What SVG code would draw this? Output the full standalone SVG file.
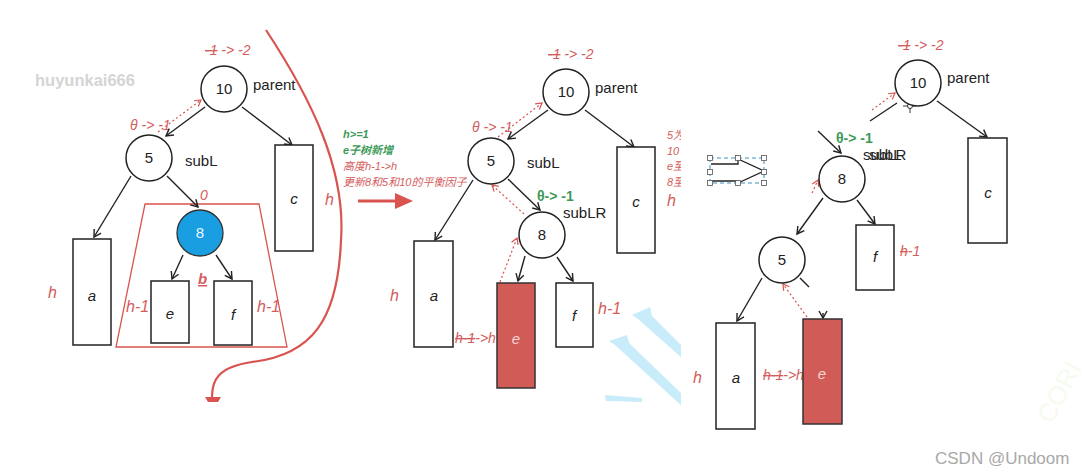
<svg xmlns="http://www.w3.org/2000/svg" width="1089" height="476" viewBox="0 0 1089 476">
<defs>
<style>
.bg{fill:#ffffff}
.node{fill:#ffffff;stroke:#222;stroke-width:1.5}
.box{fill:#ffffff;stroke:#222;stroke-width:1.5}
.boxr{fill:#d15b56;stroke:#333;stroke-width:1.5}
.num{font-family:"Liberation Sans",Arial,sans-serif;font-size:15px;fill:#222;text-anchor:middle}
.lbl{font-family:"Liberation Sans",Arial,sans-serif;font-size:15px;fill:#222}
.it{font-family:"Liberation Sans",Arial,sans-serif;font-size:15px;font-style:italic;fill:#222;text-anchor:middle}
.red{font-family:"Liberation Sans",Arial,sans-serif;font-size:14px;font-style:italic;fill:#d45d5d}
.redh{font-family:"Liberation Sans",Arial,sans-serif;font-size:16px;font-style:italic;fill:#d45d5d}
.grn{font-family:"Liberation Sans",Arial,sans-serif;font-size:14px;font-weight:bold;fill:#3d9a57}
.note{font-family:"Liberation Sans","Noto Sans CJK SC",sans-serif;font-size:11px;font-style:italic}
.link{stroke:#222;stroke-width:1.4;fill:none}
.dot{stroke:#d9534f;stroke-width:1.2;stroke-dasharray:2 2.5;fill:none}
.strike{text-decoration:line-through}
</style>
<marker id="ah" markerUnits="userSpaceOnUse" markerWidth="12" markerHeight="12" viewBox="-9 -6 12 12" refX="0" refY="0" orient="auto">
<path d="M-7,-4 L0,0 L-7,4" fill="none" stroke="#222" stroke-width="1.4"/>
</marker>
<marker id="ahr" markerUnits="userSpaceOnUse" markerWidth="12" markerHeight="12" viewBox="-9 -6 12 12" refX="0" refY="0" orient="auto">
<path d="M-6,-3.5 L0,0 L-6,3.5" fill="none" stroke="#d9534f" stroke-width="1.2"/>
</marker>
<clipPath id="midclip"><rect x="0" y="0" width="681" height="476"/></clipPath>
</defs>
<rect class="bg" x="0" y="0" width="1089" height="476"/>

<!-- watermarks -->
<text x="35" y="86" font-family="Liberation Sans,Arial,sans-serif" font-size="16.5" font-weight="bold" fill="#d4d4d4">huyunkai666</text>
<text x="935" y="464" font-family="Liberation Sans,Arial,sans-serif" font-size="17" fill="#a8a8a8">CSDN @Undoom</text>
<text x="0" y="0" transform="translate(1052,425) rotate(-62)" font-family="Liberation Sans,Arial,sans-serif" font-size="26" fill="#f5fbef">CORI</text>

<!-- blue streaks -->
<g clip-path="url(#midclip)" fill="#c9ecfb">
<polygon points="632,315 650,307 652,316 684,348 684,360 638,319"/>
<polygon points="609,341 627,335 629,343 684,396 684,408 615,345"/>
<polygon points="605,395 642,398 642,402 606,401"/>
</g>

<!-- left panel decorations -->
<g id="left-annot">
<polygon points="145,204 259,204 287,347 116,347" fill="none" stroke="#d9534f" stroke-width="1.3"/>
<path d="M266,30 C312,100 346,170 341,240 C338,320 312,355 252,362 C218,367 212,380 212,397" fill="none" stroke="#d9534f" stroke-width="2.2"/>
<polygon points="205,397 221,397 218,402 208,402" fill="#d9534f"/>
<text class="red" x="205" y="55"><tspan class="strike">-1</tspan> -&gt; -2</text>
<text class="red" x="130" y="130">θ -&gt; -1</text>
<text class="red" x="200" y="200">0</text>
<text x="198" y="284" font-family="Liberation Sans,Arial,sans-serif" font-size="15" font-weight="bold" font-style="italic" fill="#d45d5d" text-decoration="underline">b</text>
<text class="redh" x="48" y="298">h</text>
<text class="redh" x="126" y="312">h-1</text>
<text class="redh" x="257" y="312">h-1</text>
<text class="redh" x="325" y="205">h</text>
</g>

<!-- transition arrow + notes -->
<g id="transition">
<line x1="358" y1="201" x2="397" y2="201" stroke="#d9534f" stroke-width="3"/>
<polygon points="395,193 413,201 395,209" fill="#d9534f"/>
<text class="note" x="343" y="138" fill="#3d9a57" font-weight="bold">h&gt;=1</text>
<text class="note" x="343" y="154" fill="#3d9a57" font-weight="bold">e子树新增</text>
<text class="note" x="343" y="170" fill="#d45d5d">高度h-1-&gt;h</text>
<text class="note" x="343" y="186" fill="#d45d5d">更新8和5和10的平衡因子</text>
</g>

<!-- connectors -->
<g id="connectors">
<line class="link" x1="205" y1="107" x2="166" y2="136" marker-end="url(#ah)"/>
<line class="link" x1="242" y1="107" x2="292" y2="145" marker-end="url(#ah)"/>
<line class="link" x1="131" y1="176" x2="94" y2="237" marker-end="url(#ah)"/>
<line class="link" x1="167" y1="176" x2="198" y2="207" marker-end="url(#ah)"/>
<line class="link" x1="183" y1="255" x2="172" y2="279" marker-end="url(#ah)"/>
<line class="link" x1="216" y1="255" x2="232" y2="279" marker-end="url(#ah)"/>
<line class="dot" x1="158" y1="132" x2="201" y2="100" marker-end="url(#ahr)"/>

<line class="link" x1="548" y1="110" x2="508" y2="139" marker-end="url(#ah)"/>
<line class="link" x1="585" y1="110" x2="634" y2="147" marker-end="url(#ah)"/>
<line class="link" x1="473" y1="180" x2="435" y2="240" marker-end="url(#ah)"/>
<line class="link" x1="508" y1="179" x2="540" y2="210" marker-end="url(#ah)"/>
<line class="link" x1="525" y1="256" x2="518" y2="281" marker-end="url(#ah)"/>
<line class="link" x1="557" y1="257" x2="573" y2="281" marker-end="url(#ah)"/>
<line class="dot" x1="498" y1="137" x2="542" y2="103" marker-end="url(#ahr)"/>
<line class="dot" x1="524" y1="214" x2="492" y2="185" marker-end="url(#ahr)"/>
<line class="dot" x1="500" y1="282" x2="517" y2="238" marker-end="url(#ahr)"/>

<line class="link" x1="870" y1="121" x2="897" y2="103"/>
<line class="dot" x1="872" y1="110" x2="895" y2="93" marker-end="url(#ahr)"/>
<line class="link" x1="937" y1="101" x2="987" y2="137" marker-end="url(#ah)"/>
<line class="link" x1="818" y1="131" x2="841" y2="153" marker-end="url(#ah)"/>
<line class="link" x1="823" y1="198" x2="797" y2="234" marker-end="url(#ah)"/>
<line class="link" x1="857" y1="200" x2="875" y2="224" marker-end="url(#ah)"/>
<line class="link" x1="762" y1="278" x2="737" y2="321" marker-end="url(#ah)"/>
<line class="link" x1="800" y1="278" x2="809" y2="287"/>
<line class="link" x1="823" y1="313" x2="823" y2="318" marker-end="url(#ah)"/>
<line class="dot" x1="807" y1="317" x2="783" y2="284" marker-end="url(#ahr)"/>
<line class="dot" x1="812" y1="193" x2="818" y2="180" marker-end="url(#ahr)"/>
</g>

<!-- LEFT PANEL NODES -->
<g id="L-n10"><circle class="node" cx="224" cy="89" r="23"/><text class="num" x="224" y="94">10</text><text class="lbl" x="253" y="90">parent</text></g>
<g id="L-n5"><circle class="node" cx="149" cy="158" r="23"/><text class="num" x="149" y="163">5</text><text class="lbl" x="185" y="166">subL</text></g>
<g id="L-n8"><circle cx="200" cy="233" r="23" fill="#1a9ee2" stroke="#333" stroke-width="1.3"/><text class="num" x="200" y="238" style="fill:#eaf6fc">8</text></g>
<g id="L-a"><rect class="box" x="73" y="239" width="38" height="106"/><text class="it" x="92" y="301">a</text></g>
<g id="L-c"><rect class="box" x="275" y="145" width="38" height="106"/><text class="it" x="294" y="204">c</text></g>
<g id="L-e"><rect class="box" x="151" y="281" width="38" height="62"/><text class="it" x="170" y="319">e</text></g>
<g id="L-f"><rect class="box" x="214" y="281" width="38" height="64"/><text class="it" x="233" y="320">f</text></g>

<!-- MIDDLE PANEL -->
<g id="M-annot">
<text class="red" x="548" y="59"><tspan class="strike">-1</tspan> -&gt; -2</text>
<text class="red" x="472" y="132">θ -&gt; -1</text>
<text class="grn" x="537" y="201">θ-&gt; -1</text>
<text class="redh" x="390" y="301">h</text>
<text class="red" x="455" y="343"><tspan class="strike">h-1</tspan>-&gt;h</text>
<text class="redh" x="598" y="314">h-1</text>
<g clip-path="url(#midclip)">
<text class="note" x="667" y="139" fill="#d45d5d">5为</text>
<text class="note" x="667" y="155" fill="#d45d5d">10</text>
<text class="note" x="667" y="170" fill="#d45d5d">e至</text>
<text class="note" x="667" y="186" fill="#d45d5d">8至</text>
<text class="redh" x="667" y="206">h</text>
</g>
</g>
<g id="M-n10"><circle class="node" cx="566" cy="92" r="23"/><text class="num" x="566" y="97">10</text><text class="lbl" x="595" y="93">parent</text></g>
<g id="M-n5"><circle class="node" cx="491" cy="161" r="23"/><text class="num" x="491" y="166">5</text><text class="lbl" x="527" y="168">subL</text></g>
<g id="M-n8"><circle class="node" cx="542" cy="235" r="23"/><text class="num" x="542" y="240">8</text><text class="lbl" x="563" y="218">subLR</text></g>
<g id="M-a"><rect class="box" x="414" y="241" width="39" height="106"/><text class="it" x="434" y="301">a</text></g>
<g id="M-c"><rect class="box" x="617" y="147" width="38" height="106"/><text class="it" x="636" y="207">c</text></g>
<g id="M-e"><rect class="boxr" x="497" y="283" width="38" height="105"/><text class="it" x="516" y="344" style="fill:#f6d6d4">e</text></g>
<g id="M-f"><rect class="box" x="556" y="283" width="37" height="64"/><text class="it" x="574" y="321">f</text></g>

<!-- RIGHT PANEL -->
<g id="R-annot">
<text class="red" x="898" y="50"><tspan class="strike">-1</tspan> -&gt; -2</text>
<text class="grn" x="836" y="143">θ-&gt; -1</text>
<text class="redh" x="693" y="383">h</text>
<text class="red" x="763" y="380"><tspan class="strike">h-1</tspan>-&gt;h</text>
<text class="red" x="900" y="256"><tspan class="strike">h</tspan>-1</text>
<g id="cursor" stroke="#333" stroke-width="1" fill="none">
<line x1="903" y1="106" x2="916" y2="106"/><line x1="910" y1="99" x2="910" y2="113"/><circle cx="910" cy="106" r="2.5" fill="#fff"/>
</g>
</g>
<g id="R-shape">
<rect x="710" y="158" width="54" height="25" fill="none" stroke="#3a8fc4" stroke-width="1" stroke-dasharray="4 3"/>
<path d="M711,164 L738,164 L738,159 L764,171 L738,183 L738,181 L711,181" fill="none" stroke="#222" stroke-width="1.3"/>
<g fill="#fff" stroke="#555" stroke-width="0.8">
<rect x="707.5" y="155.5" width="5" height="5"/><rect x="735.5" y="155.5" width="5" height="5"/><rect x="761.5" y="155.5" width="5" height="5"/>
<rect x="707.5" y="169.5" width="5" height="5"/><rect x="761.5" y="169.5" width="5" height="5"/>
<rect x="707.5" y="180.5" width="5" height="5"/><rect x="735.5" y="180.5" width="5" height="5"/><rect x="761.5" y="180.5" width="5" height="5"/>
</g>
</g>
<g id="R-n10"><circle class="node" cx="918" cy="83" r="23"/><text class="num" x="918" y="88">10</text><text class="lbl" x="947" y="83">parent</text></g>
<g id="R-n8"><circle class="node" cx="842" cy="179" r="23"/><text class="num" x="842" y="184">8</text><text class="lbl" x="863" y="160">subLR</text><text class="lbl" x="869" y="160">subL</text></g>
<g id="R-n5"><circle class="node" cx="782" cy="260" r="23"/><text class="num" x="782" y="265">5</text></g>
<g id="R-a"><rect class="box" x="716" y="323" width="39" height="106"/><text class="it" x="736" y="383">a</text></g>
<g id="R-c"><rect class="box" x="968" y="138" width="39" height="105"/><text class="it" x="988" y="198">c</text></g>
<g id="R-e"><rect class="boxr" x="803" y="319" width="39" height="105"/><text class="it" x="822" y="379" style="fill:#f6d6d4">e</text></g>
<g id="R-f"><rect class="box" x="856" y="225" width="38" height="65"/><text class="it" x="875" y="262">f</text></g>
</svg>
